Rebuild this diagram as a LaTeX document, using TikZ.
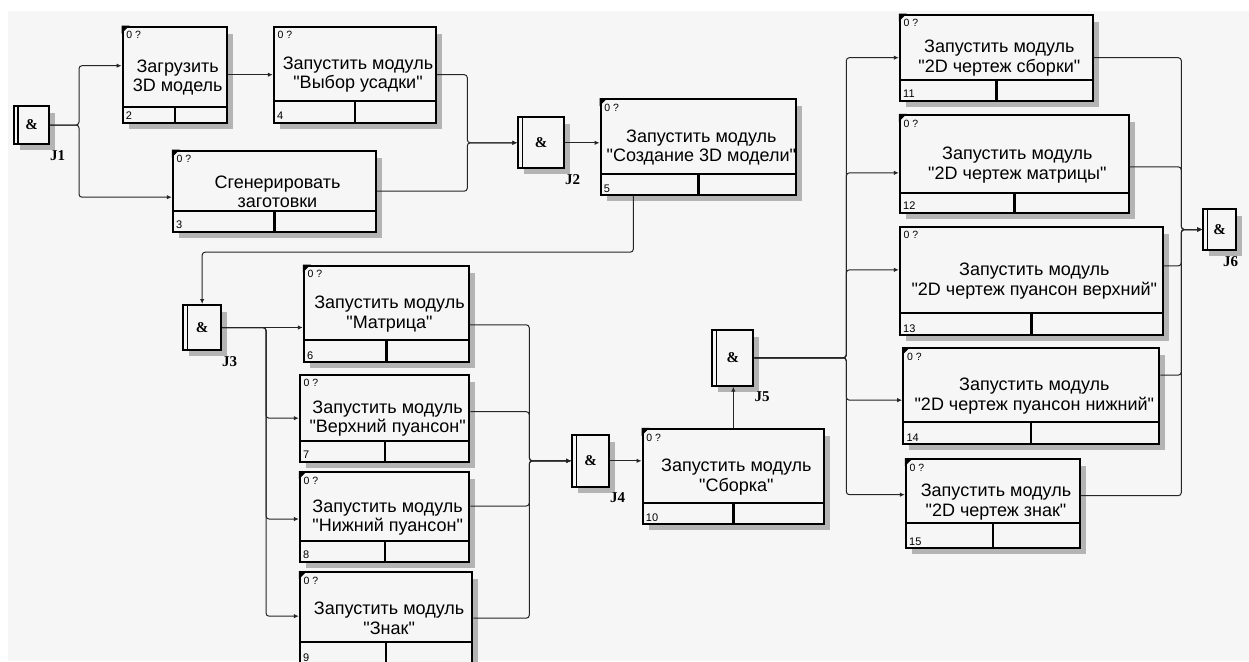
\documentclass[tikz,border=0pt]{standalone}
\usepackage{fontspec}
\setmainfont{Liberation Sans}[Ligatures=TeXOff]
\newfontfamily\jfont{Liberation Serif}
\usetikzlibrary{arrows.meta}

\definecolor{bgcol}{HTML}{F6F6F6}
\definecolor{shadecol}{HTML}{B4B4B4}

% unit of work: name, x1, y1, x2, y2, strip height, number, text
\newcommand{\uow}[8]{%
  \fill[dropshadow] (#2+6,#3+7) rectangle (#4+6,#5+6);
  \node[uow, minimum width={#4-#2}, minimum height={#5-#3}] (#1) at ({(#2+#4)/2},{(#3+#5)/2}) {};
  \draw[stripline] (#2,#5-#6) -- (#4,#5-#6) ({(#2+#4)/2},#5-#6) -- ({(#2+#4)/2},#5);
  \node[zerotag, anchor=north west] at (#2+3.5,#3+4.5) {0 ?};
  \node[numtag, anchor=base west] at (#2+3,#5-3) {#7};
  \node[uowtext] at ({(#2+#4)/2+3},{(#3+#5-#6)/2+11}) {#8};
}
% junction: [label shift], name, x1, y1, x2, y2
\newcommand{\junc}[6][0]{%
  \fill[dropshadow] (#3+6,#4+7) rectangle (#5+6,#6+6);
  \node[junc, minimum width={#5-#3}, minimum height={#6-#4}] (#2) at ({(#3+#5)/2},{(#4+#6)/2}) {\&};
  \draw[line width=1.5pt] (#3+4,#4) -- (#3+4,#6);
  \node[jlab, anchor=north west] at (#5+1+#1,#6+6) {#2};
}
\newcommand{\ucorner}[1]{\fill (#1.north west) -- ++(8,0) -- ++(-8,8) -- cycle;}

\begin{document}
\begin{tikzpicture}[x=1pt, y=-1pt,
    uow/.style={draw, line width=2.3pt, fill=bgcol, inner sep=0pt},
    uowtext/.style={align=center, inner sep=0pt, font=\fontsize{18}{19.5}\selectfont},
    stripline/.style={line width=2.3pt},
    dropshadow/.style={fill=shadecol},
    zerotag/.style={inner sep=0pt, font=\fontsize{10.5}{11}\selectfont},
    numtag/.style={inner sep=0pt, font=\fontsize{11}{11}\selectfont},
    junc/.style={draw, line width=2pt, fill=bgcol, inner sep=0pt, font=\jfont\bfseries\fontsize{15}{15}\selectfont},
    jlab/.style={inner sep=0pt, font=\jfont\bfseries\fontsize{15}{15}\selectfont},
    link/.style={draw=black!85, line width=1pt, rounded corners=3pt, -{Latex[length=5pt,width=4.5pt]}}]
  \useasboundingbox (0,0) rectangle (1249,661);
  \clip (0,0) rectangle (1249,661);
  \fill[bgcol] (8,11) rectangle (1249,661);

  % units of work
  \uow{b2}{122.7}{26.7}{226.7}{122.7}{16}{2}{Загрузить\\3D модель}
  \uow{b4}{274}{26.7}{436}{122.7}{22}{4}{Запустить модуль\\"Выбор усадки"}
  \uow{b3}{173}{150.7}{376}{231.7}{21}{3}{Сгенерировать\\заготовки}
  \uow{b5}{600.7}{99.3}{796}{195}{21}{5}{Запустить модуль\\"Создание 3D модели"}
  \uow{b6}{304}{265.7}{469}{362}{22}{6}{Запустить модуль\\"Матрица"}
  \uow{b7}{300}{374.7}{469.3}{461.7}{21}{7}{Запустить модуль\\"Верхний пуансон"}
  \uow{b8}{300}{472.3}{469.3}{561.7}{21}{8}{Запустить модуль\\"Нижний пуансон"}
  \uow{b9}{300}{572.3}{472.3}{664}{22}{9}{Запустить модуль\\"Знак"}
  \uow{b10}{642.7}{429}{824}{524}{21}{10}{Запустить модуль\\"Сборка"}
  \uow{b11}{900}{14.7}{1092.7}{100.7}{21}{11}{Запустить модуль\\"2D чертеж сборки"}
  \uow{b12}{900}{115}{1128.7}{212.7}{20}{12}{Запустить модуль\\"2D чертеж матрицы"}
  \uow{b13}{900}{226.7}{1162.7}{335}{22}{13}{Запустить модуль\\"2D чертеж пуансон верхний"}
  \uow{b14}{903.3}{348.3}{1159.3}{444}{22}{14}{Запустить модуль\\"2D чертеж пуансон нижний"}
  \uow{b15}{906}{459.3}{1080}{548}{25}{15}{Запустить модуль\\"2D чертеж знак"}
  \foreach \b in {b2,b3,b5,b6,b8,b9,b10,b11,b12,b14,b15} {\ucorner{\b}}

  % junctions
  \junc{J1}{14}{106}{49}{144}
  \junc{J2}{518.3}{117.3}{564}{168.3}
  \junc{J3}{183.3}{305}{221}{350}
  \junc{J4}{572.3}{435}{609}{486.7}
  \junc{J5}{712.3}{330}{753.3}{385.7}
  \junc[-14]{J6}{1203.3}{209}{1236}{250}

  % links
  \draw[link] (J1.east) -- ++(29,0) |- ([yshift=9pt]b2.west);
  \draw[link] (J1.east) -- ++(29,0) |- ([yshift=-6pt]b3.west);
  \draw[link] (b2.east) -- (b4.west);
  \draw[link] (b4.east) -| ([xshift=-50pt]J2.west) -- (J2.west);
  \draw[link] (b3.east) -| ([xshift=-50pt]J2.west) -- (J2.west);
  \draw[link] (J2.east) -- (J2.east -| b5.west);
  \draw[link] ([xshift=-65pt]b5.south) -- ++(0,56) -| (J3.north);

  \draw[link] (J3.east) -- (J3.east -| b6.west);
  \foreach \t/\s in {b7/0, b8/-2, b9/2}
    \draw[link] (J3.east) -- ++(44,0) |- ([yshift=\s pt]\t.west);
  \foreach \t/\s in {b6/-11, b7/6.5, b8/11, b9/0}
    \draw[link] ([yshift=\s pt]\t.east) -| ([xshift=-42pt]J4.west) -- (J4.west);
  \draw[link] (J4.east) -- (J4.east -| b10.west);
  \draw[link] (b10.north) -- (b10.north |- J5.south);

  \foreach \t/\s in {b11/0, b12/-9, b13/11, b14/-4, b15/9}
    \draw[link] (J5.east) -- ++(92,0) |- ([yshift=\s pt]\t.west);
  \foreach \t/\s in {b11/0, b12/-3, b13/15, b14/21, b15/8}
    \draw[link] ([yshift=\s pt]\t.east) -| ([xshift=-21pt]J6.west) -- (J6.west);
\end{tikzpicture}
\end{document}
